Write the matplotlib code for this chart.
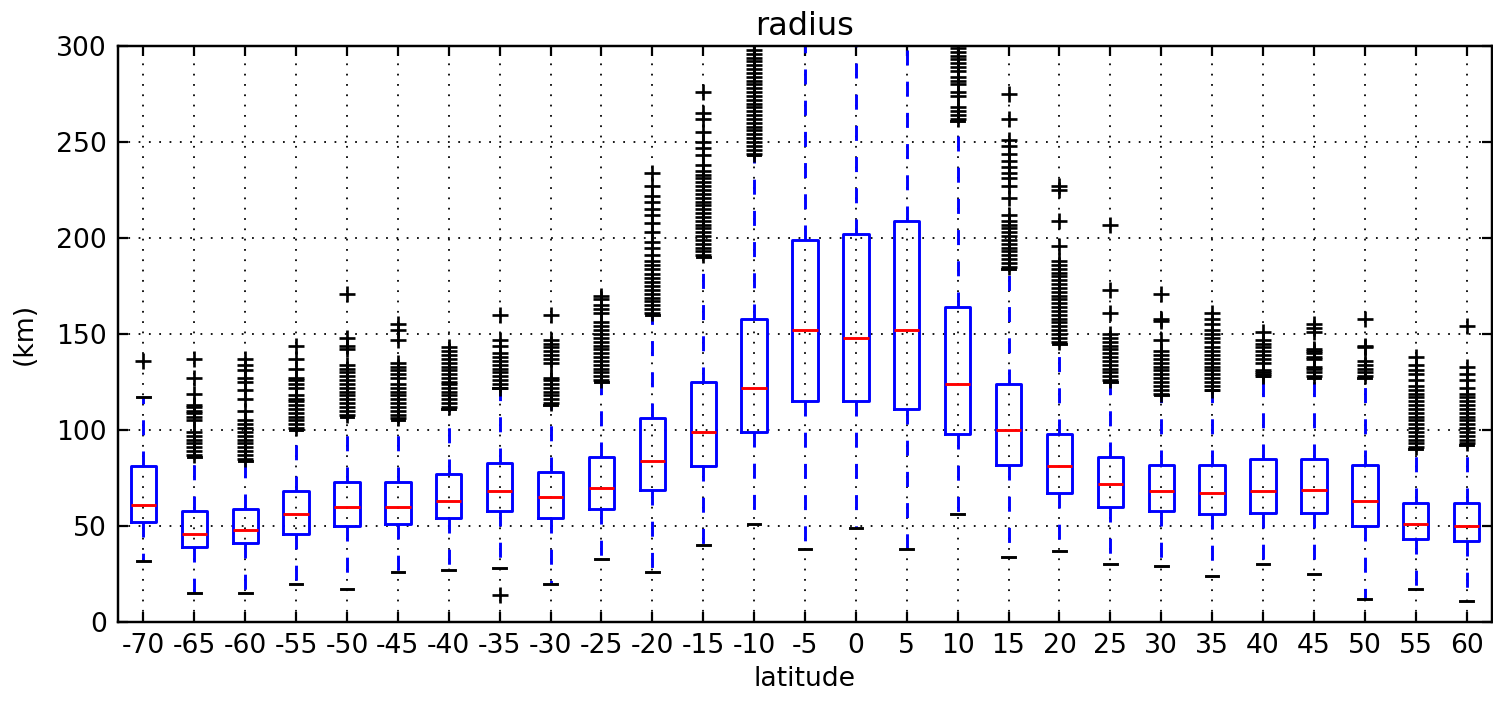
import matplotlib
matplotlib.use("Agg")
import matplotlib.pyplot as plt

# latitude bins
lat_labels = ["-70", "-65", "-60", "-55", "-50", "-45", "-40", "-35", "-30",
              "-25", "-20", "-15", "-10", "-5", "0", "5", "10", "15", "20",
              "25", "30", "35", "40", "45", "50", "55", "60"]

# box statistics (km)
q1 = [52, 39, 41, 46, 50, 51, 54, 58, 54, 59, 69, 81, 99, 115, 115, 111,
      98, 82, 67, 60, 58, 56, 57, 57, 50, 43, 42]
med = [61, 46, 48, 56, 60, 60, 63, 68, 65, 70, 84, 99, 122, 152, 148, 152,
       124, 100, 81, 72, 68, 67, 68, 69, 63, 51, 50]
q3 = [81, 58, 59, 68, 73, 73, 77, 83, 78, 86, 106, 125, 158, 199, 202, 209,
      164, 124, 98, 86, 82, 82, 85, 85, 82, 62, 62]
whislo = [32, 15, 15, 20, 17, 26, 27, 28, 20, 33, 26, 40, 51, 38, 49, 38,
          56, 34, 37, 30, 29, 24, 30, 25, 12, 17, 11]
whishi = [117, 86, 84, 100, 107, 105, 111, 122, 113, 125, 160, 190, 243, 330,
          330, 330, 261, 184, 145, 125, 118, 121, 128, 127, 127, 90, 92]

# outliers
f_m70 = [136]
f_m65 = [87, 89, 91, 93, 95, 97, 99, 105, 107, 109, 110, 112, 113, 119, 127,
         137]
f_m60 = [85, 87, 89, 91, 93, 95, 97, 99, 101, 103, 105, 110, 116, 121, 125,
         127, 131, 134, 137]
f_m55 = [101, 103, 105, 107, 109, 111, 113, 115, 116, 118, 122, 124, 126,
         127, 132, 137, 144]
f_m50 = [108, 110, 112, 114, 116, 118, 120, 122, 124, 126, 128, 130, 132,
         134, 142, 144, 148, 171]
f_m45 = [106, 108, 110, 112, 114, 116, 118, 120, 122, 124, 127, 129, 131,
         133, 135, 147, 152, 155]
f_m40 = [112, 114, 116, 118, 120, 122, 124, 125, 127, 129, 131, 133, 135,
         137, 139, 141, 143]
f_m35 = [14, 122, 124, 126, 128, 130, 132, 134, 136, 138, 140, 144, 147, 160]
f_m30 = [114, 116, 118, 120, 122, 124, 126, 127, 135, 137, 139, 141, 143,
         145, 147, 160]
f_m25 = [126, 128, 130, 132, 134, 136, 138, 140, 142, 144, 146, 148, 150,
         152, 154, 156, 161, 163, 165, 168, 170]
f_m20 = [161, 163, 165, 167, 169, 171, 173, 175, 177, 179, 181, 184, 186,
         188, 191, 195, 198, 203, 208, 212, 215, 219, 222, 227, 234]
f_m15 = [191, 193, 195, 197, 199, 201, 203, 205, 207, 209, 211, 213, 215,
         217, 219, 221, 223, 225, 227, 229, 231, 233, 235, 238, 243, 247, 250,
         255, 262, 265, 276]
f_m10 = [244, 246, 248, 250, 252, 254, 256, 258, 260, 262, 264, 266, 268,
         270, 272, 274, 276, 278, 280, 282, 284, 286, 288, 290, 292, 294, 296,
         298]
f_m5 = []
f_0 = []
f_5 = []
f_10 = [262, 264, 266, 268, 274, 276, 280, 282, 284, 287, 289, 291, 293, 295,
        297, 299]
f_15 = [185, 187, 189, 191, 193, 195, 197, 199, 201, 203, 205, 207, 209, 212,
        221, 227, 231, 234, 237, 240, 244, 248, 251, 262, 275]
f_20 = [146, 148, 150, 152, 154, 156, 158, 160, 162, 164, 166, 168, 170, 172,
        174, 176, 178, 180, 182, 184, 186, 188, 196, 209, 225, 227]
f_25 = [126, 128, 130, 132, 134, 136, 138, 140, 142, 144, 146, 148, 150, 161,
        173, 207]
f_30 = [119, 121, 123, 125, 127, 129, 131, 133, 135, 137, 139, 141, 147, 157,
        158, 171]
f_35 = [121, 123, 125, 127, 129, 131, 133, 135, 137, 139, 141, 143, 146, 148,
        150, 152, 155, 158, 161]
f_40 = [128, 129, 130, 131, 135, 137, 139, 141, 143, 145, 147, 151]
f_45 = [128, 130, 132, 133, 137, 138, 140, 141, 142, 151, 153, 155]
f_50 = [128, 130, 132, 134, 136, 143, 144, 158]
f_55 = [91, 93, 95, 97, 99, 101, 103, 105, 107, 109, 111, 113, 115, 117, 119,
        121, 123, 126, 129, 131, 134, 138]
f_60 = [93, 95, 97, 99, 101, 103, 105, 107, 109, 111, 113, 115, 117, 119,
        122, 126, 129, 133, 154]

fliers = [f_m70, f_m65, f_m60, f_m55, f_m50, f_m45, f_m40, f_m35, f_m30,
          f_m25, f_m20, f_m15, f_m10, f_m5, f_0, f_5, f_10, f_15, f_20, f_25,
          f_30, f_35, f_40, f_45, f_50, f_55, f_60]

stats = []
for i in range(len(lat_labels)):
    stats.append(dict(q1=q1[i], med=med[i], q3=q3[i], whislo=whislo[i],
                      whishi=whishi[i], fliers=fliers[i], label=lat_labels[i]))

DPI = 160
plt.rcParams['font.family'] = 'DejaVu Sans'
plt.rcParams['font.size'] = 12
plt.rcParams['axes.unicode_minus'] = False

fig = plt.figure(figsize=(1493 / DPI, 702 / DPI), dpi=DPI)
ax = fig.add_axes([118 / 1493, 1 - 622 / 702, (1492 - 118) / 1493, (622 - 46) / 702])

LW = 1.3
ax.bxp(stats, positions=range(1, len(stats) + 1), widths=0.5, capwidths=0.25,
       boxprops=dict(color='b', linewidth=LW),
       whiskerprops=dict(color='b', linewidth=LW, linestyle=(0, (5.2, 5.6))),
       capprops=dict(color='k', linewidth=LW),
       medianprops=dict(color='r', linewidth=LW),
       flierprops=dict(marker='+', markeredgecolor='k', markersize=7,
                       markeredgewidth=1.2, linestyle='none'))

ax.set_xlim(0.5, len(stats) + 0.5)
ax.set_ylim(0, 300)
ax.set_yticks([0, 50, 100, 150, 200, 250, 300])
ax.grid(True, color='k', linestyle=(0, (1.0, 4.8)), linewidth=0.8)
ax.tick_params(direction='in', top=True, right=True, length=4.5, width=1,
               labelsize=12, pad=5)
for s in ax.spines.values():
    s.set_linewidth(1.1)

ax.set_title('radius', fontsize=14.4, pad=5)
ax.set_xlabel('latitude', fontsize=12, labelpad=3)
ax.set_ylabel('(km)', fontsize=12, labelpad=8)

fig.savefig('out.png', dpi=DPI)
